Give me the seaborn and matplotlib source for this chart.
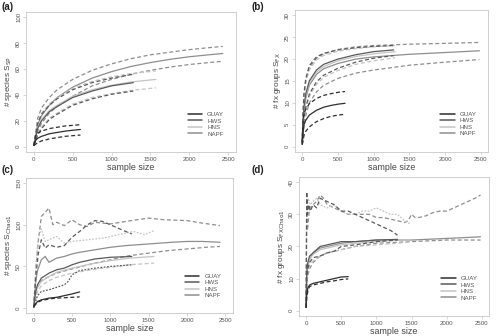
import matplotlib
matplotlib.use("Agg")
import matplotlib.pyplot as plt
import seaborn as sns
import pandas as pd

# ---------------- data ----------------
GROUPS = ["GUAY", "HWS", "HNS", "NAPF"]
COLORS = {"GUAY": "#2e2e2e", "HWS": "#5a5a5a", "HNS": "#c4c4c4", "NAPF": "#8e8e8e"}

# (a) species S_SP
A_GUAY_X = [1, 25, 50, 100, 200, 300, 400, 500, 600]
A_GUAY_M = [1, 5, 6.5, 8, 10, 11, 12, 12.7, 13.3]
A_GUAY_U = [1, 9, 10.5, 12, 14, 15, 16, 16.5, 17]
A_GUAY_L = [1, 2, 3, 4.5, 6, 7, 8, 8.5, 9]
A_HWS_X = [1, 50, 100, 200, 300, 500, 750, 1000, 1280]
A_HWS_M = [1, 14, 20, 27, 31, 38, 43, 47, 49.5]
A_HWS_U = [1, 18, 25, 32, 37, 44, 49.5, 53, 56]
A_HWS_L = [1, 9, 14, 21, 25, 32, 37, 40.5, 43]
A_HNS_X = [1, 50, 100, 200, 300, 500, 750, 1000, 1250, 1570]
A_HNS_M = [1, 15, 21, 28, 32, 39, 44, 47.5, 50, 52]
A_HNS_U = [1, 19, 26, 33, 38, 45, 50.5, 54, 56.5, 58.5]
A_HNS_L = [1, 10, 15, 22, 26, 33, 38, 41, 43.5, 45.5]
A_NAPF_X = [1, 50, 100, 200, 300, 500, 750, 1000, 1250, 1500, 1750, 2000, 2250, 2430]
A_NAPF_M = [1, 17, 24, 32, 38, 46, 53, 58, 62, 65, 67.5, 69.5, 71, 72]
A_NAPF_U = [1, 22, 30, 38, 44, 52, 59, 64, 68, 71, 73, 75, 76.5, 77.5]
A_NAPF_L = [1, 12, 18, 26, 31, 39, 47, 52, 56, 59, 61.5, 63.5, 65, 66]

# (b) functional groups S_FX
B_GUAY_X = [1, 10, 25, 50, 100, 200, 300, 400, 500, 600]
B_GUAY_M = [0.5, 3, 5, 6, 7.2, 8.3, 9, 9.4, 9.7, 9.9]
B_GUAY_U = [0.5, 5, 7.5, 8.5, 9.8, 11, 11.7, 12.1, 12.4, 12.6]
B_GUAY_L = [0.5, 1, 2.5, 3.5, 4.5, 5.7, 6.4, 6.9, 7.2, 7.4]
B_HWS_X = [1, 10, 25, 50, 100, 200, 300, 500, 750, 1000, 1280]
B_HWS_M = [1, 5, 9, 12, 15, 17.5, 18.8, 20, 21, 21.7, 22.1]
B_HWS_U = [1, 7, 12, 15.5, 18.5, 20.5, 21.3, 22.1, 22.6, 22.9, 23.1]
B_HWS_L = [1, 3, 6.5, 9, 12, 14.8, 16.3, 17.9, 19.3, 20.2, 20.8]
B_HNS_X = [1, 10, 25, 50, 100, 200, 300, 500, 750, 1000, 1300]
B_HNS_M = [1, 4.5, 8.5, 11.5, 14.5, 17, 18.3, 19.6, 20.6, 21.2, 21.7]
B_HNS_U = [1, 6.5, 11, 14.5, 17.5, 19.8, 20.8, 21.8, 22.4, 22.8, 23.1]
B_HNS_L = [1, 2.5, 6, 8.5, 11.5, 14.2, 15.8, 17.4, 18.8, 19.6, 20.3]
B_NAPF_X = [1, 10, 25, 50, 100, 200, 300, 500, 750, 1000, 1500, 2000, 2480]
B_NAPF_M = [1, 4, 8, 11, 14, 16.5, 17.8, 19, 20, 20.5, 21.1, 21.5, 21.9]
B_NAPF_U = [1, 6.5, 11.5, 15, 18, 20.2, 21.2, 22.2, 22.8, 23.1, 23.4, 23.6, 23.8]
B_NAPF_L = [1, 2, 4.5, 7, 10, 12.5, 14, 15.6, 16.8, 17.5, 18.6, 19.3, 19.9]

# (c) species S_Chao1
C_GUAY_X = [1, 50, 100, 200, 300, 400, 500, 600]
C_GUAY_M = [2, 8, 10, 12, 13, 15, 17, 19.5]
C_GUAY_L = [2, 7, 9, 11, 12, 12.5, 13, 13.5]
C_HWS_MX = [1, 25, 50, 100, 200, 300, 400, 500, 600, 800, 1000, 1280]
C_HWS_M = [1, 20, 28, 36, 42, 46, 48, 52, 55, 59, 61, 62]
C_HWS_UX = [1, 30, 60, 100, 150, 200, 300, 400, 500, 600, 700, 800, 900, 1000, 1100, 1200, 1280]
C_HWS_U = [1, 40, 65, 82, 72, 76, 73, 75, 85, 92, 100, 105, 104, 100, 96, 92, 89]
C_HWS_LX = [1, 50, 100, 200, 300, 400, 450, 500, 600, 800, 1000, 1280]
C_HWS_L = [1, 15, 20, 22, 25, 28, 32, 40, 45, 48, 50, 52]
C_HNS_MX = [1, 25, 50, 100, 200, 300, 500, 750, 1000, 1250, 1570]
C_HNS_M = [1, 18, 25, 32, 38, 43, 48, 53, 57, 60, 62]
C_HNS_UX = [1, 30, 60, 100, 150, 200, 300, 400, 500, 700, 900, 1100, 1300, 1450, 1570]
C_HNS_U = [1, 50, 85, 95, 80, 82, 86, 78, 80, 82, 84, 88, 92, 88, 93]
C_HNS_LX = [1, 50, 100, 200, 300, 500, 750, 1000, 1250, 1570]
C_HNS_L = [1, 20, 27, 33, 37, 42, 46, 49, 52, 54]
C_NAPF_MX = [1, 25, 50, 100, 150, 200, 300, 400, 500, 600, 800, 1000, 1200, 1500, 1800, 2000, 2200, 2430]
C_NAPF_M = [1, 30, 45, 58, 62, 55, 60, 62, 65, 67, 70, 73, 75, 77, 79, 80, 80, 79]
C_NAPF_UX = [1, 30, 60, 100, 150, 200, 250, 300, 400, 500, 600, 700, 800, 1000, 1200, 1500, 1700, 2000, 2200, 2430]
C_NAPF_U = [1, 50, 80, 110, 115, 120, 100, 103, 99, 106, 100, 98, 103, 101, 104, 108, 106, 105, 102, 99]
C_NAPF_LX = [1, 50, 100, 200, 300, 500, 750, 1000, 1250, 1500, 1750, 2000, 2250, 2430]
C_NAPF_L = [1, 25, 33, 38, 42, 47, 53, 58, 63, 66, 69, 71, 73, 74]

# (d) functional groups S_FXChao1
D_GUAY_X = [1, 10, 25, 50, 100, 200, 300, 400, 500, 600]
D_GUAY_M = [1, 5, 7, 8, 8.5, 9, 9.5, 10, 10.5, 10.6]
D_GUAY_L = [1, 4, 6, 7.5, 8, 8.5, 9, 9.3, 9.7, 9.9]
D_HWS_MX = [1, 10, 25, 50, 100, 150, 200, 300, 400, 500, 700, 1000, 1300]
D_HWS_M = [1, 12, 15, 17, 18, 19, 20, 20.5, 21, 21.5, 21.5, 22, 22.2]
D_HWS_UX = [1, 10, 20, 40, 60, 100, 150, 200, 300, 400, 500, 600, 700, 800, 900, 1000, 1100, 1200, 1300]
D_HWS_U = [1, 37, 30, 33, 31, 33, 32, 35, 34, 33, 31, 31, 30, 29, 28, 27, 26, 25, 23.5]
D_HWS_LX = [1, 10, 25, 50, 100, 200, 300, 400, 500, 700, 1000, 1300]
D_HWS_L = [1, 10, 13, 15, 16.5, 17, 18, 18.5, 20, 20.5, 21.5, 22]
D_HNS_MX = [1, 10, 25, 50, 100, 200, 300, 500, 700, 1000, 1300, 1480]
D_HNS_M = [1, 11, 14, 16, 17.5, 19, 19.5, 20.5, 21, 21.5, 22, 22]
D_HNS_UX = [1, 10, 30, 60, 100, 150, 200, 300, 400, 500, 600, 700, 800, 900, 1000, 1100, 1200, 1300, 1400, 1480]
D_HNS_U = [1, 30, 35, 33, 34, 35, 33, 32, 33, 31, 30, 30, 31, 31, 32, 31, 30, 30, 28, 27]
D_HNS_LX = [1, 10, 25, 50, 100, 200, 300, 500, 700, 1000, 1300, 1480]
D_HNS_L = [1, 9, 12, 14, 15.5, 17, 18, 19, 20, 20.5, 21, 21.5]
D_NAPF_MX = [1, 10, 25, 50, 100, 200, 300, 500, 700, 1000, 1500, 2000, 2480]
D_NAPF_M = [1, 11, 14, 16, 18, 19.5, 20, 21, 21.5, 22, 22, 22.5, 23]
D_NAPF_UX = [1, 10, 20, 50, 100, 150, 200, 250, 300, 400, 500, 600, 700, 800, 900, 1000, 1100, 1200,
             1300, 1400, 1450, 1500, 1550, 1600, 1700, 1800, 1900, 2000, 2100, 2200, 2300, 2400, 2480]
D_NAPF_U = [1, 35, 25, 32, 33, 34, 36, 35, 33, 32, 31, 30, 30, 30, 30, 29, 29, 28.5,
            28, 27.5, 28, 30, 29, 29, 29.5, 30.5, 31, 31, 32, 33, 34, 35, 36]
D_NAPF_LX = [1, 10, 25, 50, 100, 200, 300, 500, 700, 1000, 1500, 2000, 2480]
D_NAPF_L = [1, 8, 11, 13, 15, 17, 18, 19, 20, 21, 21.5, 22, 22]

X_TICKS = [0, 500, 1000, 1500, 2000, 2500]
PANEL_LABELS = ["(a)", "(b)", "(c)", "(d)"]
Y_LABELS = [r"# species S$_{\mathrm{SP}}$", r"# fx groups S$_{\mathrm{FX}}$",
            r"# species S$_{\mathrm{Chao1}}$", r"# fx groups S$_{\mathrm{FXChao1}}$"]
Y_TICKS = [[0, 20, 40, 60, 80, 100], [0, 5, 10, 15, 20, 25, 30],
           [0, 50, 100, 150], [0, 10, 20, 30, 40]]
Y_LIMS = [(-4, 104), (-1.2, 31.2), (-6, 156), (-1.6, 41.6)]

# ---------------- style ----------------
sns.set_style("white")
plt.rcParams["font.family"] = ["Liberation Sans", "DejaVu Sans"]

DASH = (3.2, 2.0)
DOT = (1.4, 1.2)
FRAME = "#c8c8c8"
TXT = "#555555"

fig = plt.figure(figsize=(5.0, 3.36), dpi=100)
rects = [(0.052, 0.548, 0.42, 0.416), (0.590, 0.548, 0.386, 0.422),
         (0.052, 0.068, 0.414, 0.402), (0.598, 0.060, 0.380, 0.413)]
axes = [fig.add_axes(r) for r in rects]


def draw(ax, x, y, grp, kind="mean", lw=0.9):
    df = pd.DataFrame({"x": x, "y": y})
    sns.lineplot(data=df, x="x", y="y", ax=ax, color=COLORS[grp], lw=lw,
                 estimator=None, sort=False, legend=False)
    ln = ax.lines[-1]
    if kind == "dash":
        ln.set_dashes(DASH)
    elif kind == "dot":
        ln.set_dashes(DOT)


# (a)
ax = axes[0]
for g, X, M, U, L in [("NAPF", A_NAPF_X, A_NAPF_M, A_NAPF_U, A_NAPF_L),
                      ("HNS", A_HNS_X, A_HNS_M, A_HNS_U, A_HNS_L),
                      ("HWS", A_HWS_X, A_HWS_M, A_HWS_U, A_HWS_L),
                      ("GUAY", A_GUAY_X, A_GUAY_M, A_GUAY_U, A_GUAY_L)]:
    draw(ax, X, U, g, "dash")
    draw(ax, X, L, g, "dash")
    draw(ax, X, M, g, "mean")

# (b)
ax = axes[1]
for g, X, M, U, L in [("NAPF", B_NAPF_X, B_NAPF_M, B_NAPF_U, B_NAPF_L),
                      ("HNS", B_HNS_X, B_HNS_M, B_HNS_U, B_HNS_L),
                      ("HWS", B_HWS_X, B_HWS_M, B_HWS_U, B_HWS_L),
                      ("GUAY", B_GUAY_X, B_GUAY_M, B_GUAY_U, B_GUAY_L)]:
    draw(ax, X, U, g, "dash")
    draw(ax, X, L, g, "dash")
    draw(ax, X, M, g, "mean")

# (c)
ax = axes[2]
draw(ax, C_NAPF_UX, C_NAPF_U, "NAPF", "dash")
draw(ax, C_NAPF_LX, C_NAPF_L, "NAPF", "dash")
draw(ax, C_NAPF_MX, C_NAPF_M, "NAPF", "mean")
draw(ax, C_HNS_UX, C_HNS_U, "HNS", "dot")
draw(ax, C_HNS_LX, C_HNS_L, "HNS", "dash")
draw(ax, C_HNS_MX, C_HNS_M, "HNS", "mean")
draw(ax, C_HWS_UX, C_HWS_U, "HWS", "dash")
draw(ax, C_HWS_LX, C_HWS_L, "HWS", "dot")
draw(ax, C_HWS_MX, C_HWS_M, "HWS", "mean")
draw(ax, C_GUAY_X, C_GUAY_L, "GUAY", "dash")
draw(ax, C_GUAY_X, C_GUAY_M, "GUAY", "mean")

# (d)
ax = axes[3]
draw(ax, D_NAPF_UX, D_NAPF_U, "NAPF", "dash")
draw(ax, D_NAPF_LX, D_NAPF_L, "NAPF", "dash")
draw(ax, D_NAPF_MX, D_NAPF_M, "NAPF", "mean")
draw(ax, D_HNS_UX, D_HNS_U, "HNS", "dot")
draw(ax, D_HNS_LX, D_HNS_L, "HNS", "dash")
draw(ax, D_HNS_MX, D_HNS_M, "HNS", "mean")
draw(ax, D_HWS_UX, D_HWS_U, "HWS", "dash")
draw(ax, D_HWS_LX, D_HWS_L, "HWS", "dash")
draw(ax, D_HWS_MX, D_HWS_M, "HWS", "mean")
draw(ax, D_GUAY_X, D_GUAY_L, "GUAY", "dash")
draw(ax, D_GUAY_X, D_GUAY_M, "GUAY", "mean")

for i, ax in enumerate(axes):
    ax.set_xlim(-100, 2600)
    ax.set_ylim(*Y_LIMS[i])
    ax.set_xticks(X_TICKS)
    ax.set_yticks(Y_TICKS[i])
    ax.tick_params(axis="both", which="both", length=2.0, width=0.5, color=FRAME,
                   labelsize=4.4, labelcolor=TXT, pad=1.5, direction="out",
                   bottom=True, left=True)
    for lab in ax.get_yticklabels():
        lab.set_rotation(90)
        lab.set_va("center")
    for s in ax.spines.values():
        s.set_color(FRAME)
        s.set_linewidth(0.6)
        s.set_visible(True)
    ax.set_xlabel("sample size", fontsize=6.4, color="#444444", labelpad=1.0)
    ax.set_ylabel(Y_LABELS[i], fontsize=5.9, color="#444444", labelpad=1.5)
    handles = [plt.Line2D([], [], color=COLORS[g], lw=1.1) for g in GROUPS]
    ax.legend(handles, GROUPS, loc="lower right", bbox_to_anchor=(0.97, 0.07),
              frameon=False, fontsize=4.4, handlelength=2.4, handletextpad=0.8,
              labelspacing=0.2, labelcolor=TXT)

label_pos = [(0.002, 0.995), (0.502, 0.995), (0.002, 0.51), (0.502, 0.51)]
for (x, y), t in zip(label_pos, PANEL_LABELS):
    fig.text(x, y, t, fontsize=7.0, fontweight="bold", va="top", ha="left", color="#222222")

fig.savefig("out.png", dpi=100)
